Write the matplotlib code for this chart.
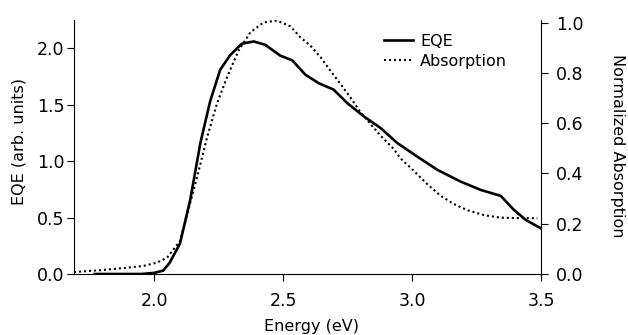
import numpy as np
import matplotlib
matplotlib.use("Agg")
import matplotlib.pyplot as plt

# EQE (left axis, arb. units)
eqe_energy = [1.77, 1.85, 1.95, 2.00, 2.035, 2.06, 2.10, 2.14, 2.179, 2.217, 2.256,
              2.295, 2.34, 2.386, 2.431, 2.489, 2.535, 2.586, 2.638, 2.696, 2.748,
              2.813, 2.878, 2.943, 3.02, 3.098, 3.188, 3.266, 3.344, 3.395, 3.441, 3.499]
eqe_values = [0.0, 0.0, 0.0, 0.01, 0.03, 0.10, 0.27, 0.66, 1.16, 1.53, 1.81,
              1.94, 2.04, 2.06, 2.03, 1.934, 1.893, 1.766, 1.69, 1.633, 1.515,
              1.396, 1.293, 1.16, 1.04, 0.923, 0.819, 0.745, 0.692, 0.568, 0.479, 0.405]

# Normalized absorption (right axis)
abs_energy = [1.689, 1.79, 1.894, 1.958, 2.01, 2.05, 2.075, 2.10, 2.114, 2.166, 2.205,
              2.243, 2.282, 2.327, 2.373, 2.424, 2.476, 2.528, 2.567, 2.606, 2.645,
              2.683, 2.722, 2.761, 2.80, 2.839, 2.878, 2.929, 2.955, 3.007, 3.059,
              3.111, 3.162, 3.214, 3.279, 3.344, 3.421, 3.486]
abs_values = [0.008, 0.015, 0.025, 0.032, 0.045, 0.065, 0.098, 0.131, 0.184, 0.384, 0.543,
              0.676, 0.782, 0.888, 0.961, 1.0, 1.008, 0.985, 0.941, 0.908, 0.862,
              0.809, 0.756, 0.702, 0.643, 0.596, 0.55, 0.497, 0.46, 0.41, 0.357,
              0.311, 0.278, 0.254, 0.234, 0.224, 0.222, 0.222]

x_ticks = [2.0, 2.5, 3.0, 3.5]
left_ticks = [0.0, 0.5, 1.0, 1.5, 2.0]
right_ticks = [0.0, 0.2, 0.4, 0.6, 0.8, 1.0]

plt.rcParams['font.family'] = ['DejaVu Sans']

fig = plt.figure(figsize=(6.28, 3.35), dpi=100)
ax = fig.add_axes([74 / 628, 1 - 274 / 335, (541 - 74) / 628, (274 - 20) / 335])
ax2 = ax.twinx()

l1, = ax.plot(eqe_energy, eqe_values, color='black', lw=1.9, label='EQE')
l2, = ax2.plot(abs_energy, abs_values, color='black', lw=1.5,
               linestyle=(0, (1, 1.4)), label='Absorption')

ax.set_xlim(1.689, 3.5)
ax.set_ylim(0, 2.25)
ax2.set_ylim(0, 1.01)

ax.set_xticks(x_ticks)
ax.set_xticklabels([f"{t:.1f}" for t in x_ticks])
ax.set_yticks(left_ticks)
ax.set_yticklabels([f"{t:.1f}" for t in left_ticks])
ax2.set_yticks(right_ticks)
ax2.set_yticklabels([f"{t:.1f}" for t in right_ticks])

for a in (ax, ax2):
    a.spines['top'].set_visible(False)
    for s in a.spines.values():
        s.set_linewidth(0.8)
ax.spines['right'].set_visible(False)
ax2.spines['left'].set_visible(False)
ax2.spines['bottom'].set_visible(False)

ax.tick_params(axis='x', direction='out', length=5, width=0.8, labelsize=12.5, pad=8)
ax.tick_params(axis='y', direction='out', length=5, width=0.8, labelsize=12.5, pad=2)
ax2.tick_params(axis='y', direction='out', length=5, width=0.8, labelsize=12.5, pad=6)

fig.text(19 / 628, 1 - 142 / 335, 'EQE (arb. units)', rotation=90,
         ha='center', va='center', fontsize=11.5)
fig.text(618 / 628, 1 - 146 / 335, 'Normalized Absorption', rotation=270,
         ha='center', va='center', fontsize=11.5)
fig.text(312 / 628, 1 - 326 / 335, 'Energy (eV)', ha='center', va='center', fontsize=11.5)

ax.legend([l1, l2], ['EQE', 'Absorption'], loc='upper left',
          bbox_to_anchor=(384 / 628, 1 - 34 / 335), bbox_transform=fig.transFigure,
          frameon=False, borderpad=0, borderaxespad=0, handlelength=1.8,
          handletextpad=0.45, labelspacing=0.3, fontsize=11.5)

fig.savefig('out.png', dpi=100)
